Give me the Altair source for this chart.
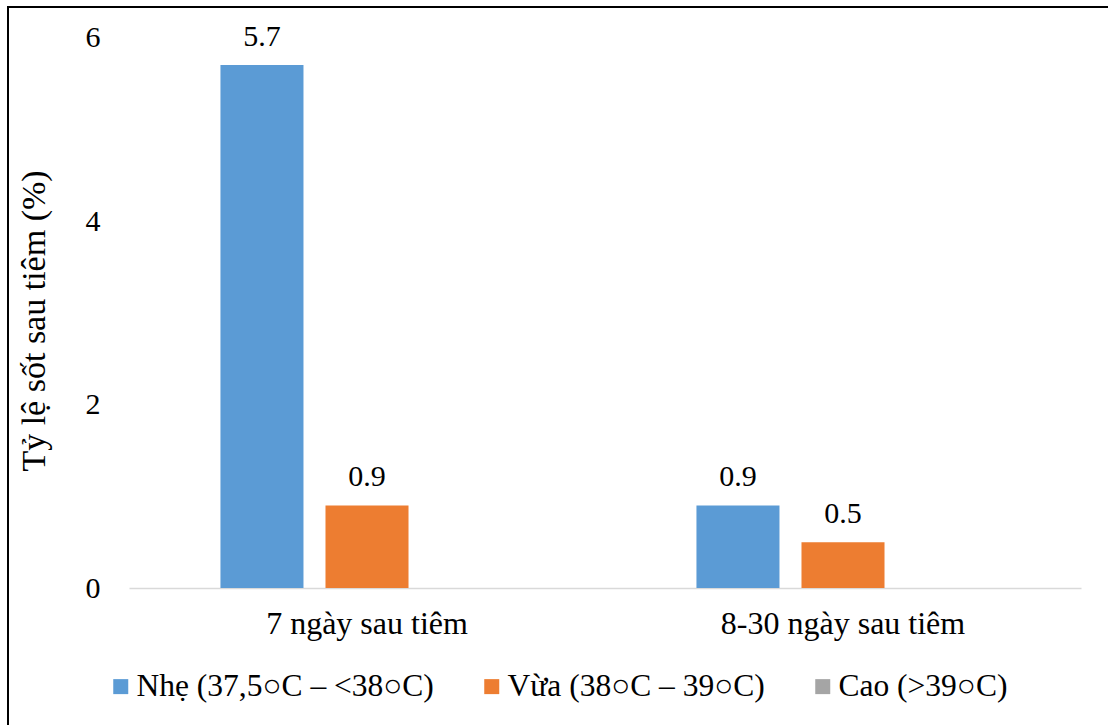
import altair as alt
import pandas as pd

# Categories and series
groups = ["7 ngày sau tiêm", "8-30 ngày sau tiêm"]
series = ["Nhẹ (37,5○C – <38○C)", "Vừa (38○C – 39○C)", "Cao (>39○C)"]
colors = ["#5B9BD5", "#ED7D31", "#A5A5A5"]

# Fever rate (%) per group for each severity level
nhe = [5.7, 0.9]
vua = [0.9, 0.5]

y_ticks = [0, 2, 4, 6]

rows = []
for g, v in zip(groups, nhe):
    rows.append({"group": g, "series": series[0], "value": v})
for g, v in zip(groups, vua):
    rows.append({"group": g, "series": series[1], "value": v})
df = pd.DataFrame(rows)

FONT = "Liberation Serif"
FS = 30

base = alt.Chart(df).encode(
    x=alt.X(
        "group:N",
        sort=groups,
        scale=alt.Scale(domain=groups, paddingInner=0.338, paddingOuter=0.169),
        axis=alt.Axis(
            title=None,
            labelAngle=0,
            ticks=False,
            tickSize=0,
            domainColor="#D9D9D9",
            domainWidth=1.5,
            labelFont=FONT,
            labelFontSize=32,
            labelColor="black",
            labelPadding=20,
            labelLimit=0,
        ),
    ),
    xOffset=alt.XOffset(
        "series:N",
        scale=alt.Scale(domain=series, paddingInner=0.2095, paddingOuter=0.1048),
    ),
    y=alt.Y(
        "value:Q",
        scale=alt.Scale(domain=[0, 6], nice=False),
        axis=alt.Axis(
            values=y_ticks,
            grid=False,
            domain=False,
            ticks=False,
            tickSize=0,
            labelFont=FONT,
            labelFontSize=FS,
            labelColor="black",
            labelPadding=29,
            title="Tỷ lệ sốt sau tiêm (%)",
            titleFont=FONT,
            titleFontSize=34,
            titleFontWeight="normal",
            titleColor="black",
            titleAngle=-90,
            titleAlign="center",
            titleBaseline="middle",
            titleX=-95,
            titleY=283,
        ),
    ),
)

bars = base.mark_bar().encode(
    color=alt.Color(
        "series:N",
        scale=alt.Scale(domain=series, range=colors),
        legend=alt.Legend(
            title=None,
            orient="none",
            direction="horizontal",
            legendX=-24,
            legendY=633,
            symbolType="square",
            symbolSize=225,
            symbolStrokeWidth=0,
            labelFont=FONT,
            labelFontSize=31.5,
            labelColor="black",
            labelOffset=0,
            labelLimit=0,
            columnPadding=42,
            padding=0,
        ),
    )
)

labels = base.mark_text(
    baseline="alphabetic", dy=-19, font=FONT, fontSize=FS, color="black"
).encode(text=alt.Text("value:Q", format=".1f"))

# Outer frame around the figure
frame = alt.Chart(pd.DataFrame({"k": [0]})).mark_rect(
    fillOpacity=0, stroke="black", strokeWidth=2
).encode(
    x=alt.value(-121),
    x2=alt.value(1100),
    y=alt.value(-30.5),
    y2=alt.value(800),
)

chart = (
    alt.layer(bars, labels, frame)
    .properties(
        width=952,
        height=550.5,
        autosize=alt.AutoSizeParams(type="none"),
        padding={"left": 129, "top": 37.5, "right": 27, "bottom": 137},
        background="white",
    )
    .configure(font=FONT)
    .configure_view(stroke=None)
)

chart.save("out.html", embed_options={"renderer": "svg", "actions": False})
